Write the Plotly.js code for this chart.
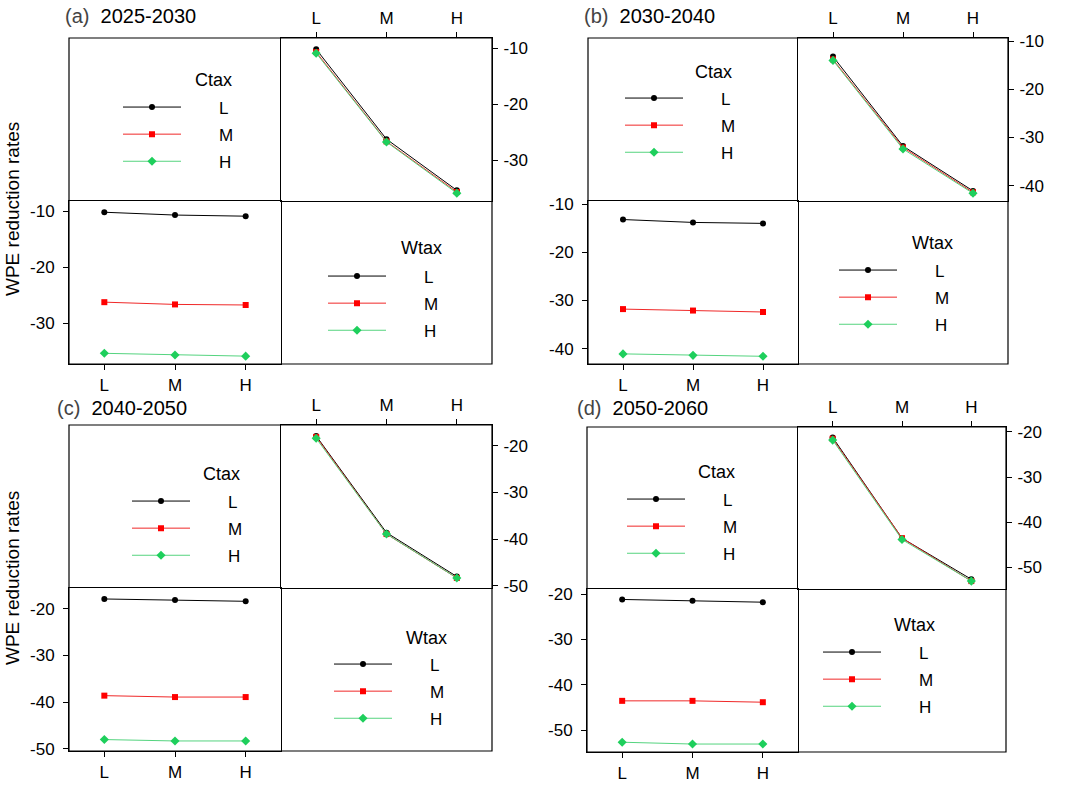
<!DOCTYPE html>
<html><head><meta charset="utf-8">
<script src="https://cdn.plot.ly/plotly-3.0.1.min.js"></script>
<style>html,body{margin:0;padding:0;background:#fff}#chart{width:1065px;height:789px}</style>
</head><body><div id="chart"></div>
<script>
// category levels (x axis) and panel labels
const levels = ['L', 'M', 'H'];
const panelTags = ['(a)', '(b)', '(c)', '(d)'];
const panelPeriods = ['2025-2030', '2030-2040', '2040-2050', '2050-2060'];
const yTitle = 'WPE reduction rates';
const legendTitles = ['Ctax', 'Wtax'];

// WPE reduction rates: one array per Ctax level, values over Wtax = L, M, H
const a_ctaxL = [-10.2, -10.7, -10.9];
const a_ctaxM = [-26.2, -26.6, -26.7];
const a_ctaxH = [-35.3, -35.6, -35.8];

const b_ctaxL = [-13.2, -13.8, -14.0];
const b_ctaxM = [-31.8, -32.1, -32.4];
const b_ctaxH = [-41.1, -41.4, -41.6];

const c_ctaxL = [-17.9, -18.1, -18.4];
const c_ctaxM = [-38.6, -38.9, -38.9];
const c_ctaxH = [-48.0, -48.3, -48.3];

const d_ctaxL = [-21.2, -21.5, -21.8];
const d_ctaxM = [-43.5, -43.5, -43.8];
const d_ctaxH = [-52.6, -53.0, -53.0];

// y tick values per panel
const a_ticks = [-10, -20, -30];
const b_ticks = [-10, -20, -30, -40];
const c_ticks = [-20, -30, -40, -50];
const d_ticks = [-20, -30, -40, -50];

const panelData = [
  [a_ctaxL, a_ctaxM, a_ctaxH],
  [b_ctaxL, b_ctaxM, b_ctaxH],
  [c_ctaxL, c_ctaxM, c_ctaxH],
  [d_ctaxL, d_ctaxM, d_ctaxH]
];
const panelTicks = [a_ticks, b_ticks, c_ticks, d_ticks];
const yRanges = [[-37.2, -8.2], [-43.2, -9.35], [-50.45, -15.55], [-54.75, -18.9]];

// ---------- layout geometry (pixels) ----------
const W = 1065, H = 789;
const fx = p => p / W, fy = p => 1 - p / H;
const geom = [
  {x0: 69,  xm: 281, x1: 492,  y0: 38,  ym: 201, y1: 364},
  {x0: 588, xm: 798, x1: 1008, y0: 38,  ym: 201, y1: 364},
  {x0: 69,  xm: 281, x1: 492,  y0: 425, ym: 588, y1: 751},
  {x0: 587, xm: 798, x1: 1006, y0: 427, ym: 589, y1: 752}
];
// legend: [line start x, first row centre y]; title: [centre x, centre y]
const legPos = [
  {c: [123, 107], w: [328, 276], ct: [213, 80], wt: [421, 248]},
  {c: [625, 98],  w: [839, 270], ct: [713, 72], wt: [932, 243]},
  {c: [132, 501], w: [334, 664], ct: [221, 474], wt: [426, 638]},
  {c: [627, 499], w: [823, 652], ct: [716, 472], wt: [914, 625]}
];
const titlePos = [[63, 16], [582, 16], [55, 408], [575, 408]];

const markerColors = ['#000000', '#ff0000', '#1ecf5c'];
const lineColors = ['#000000', '#f02828', '#55d47f'];
const symbols = ['circle', 'square', 'diamond'];
const msizes = [6, 6, 7];
const PAD = '\u00a0\u00a0\u00a0\u00a0\u00a0\u00a0\u00a0';

const FONT = 'Liberation Sans, Arial, sans-serif';
const layout = {
  width: W, height: H,
  margin: {l: 0, r: 0, t: 0, b: 0},
  paper_bgcolor: '#ffffff', plot_bgcolor: 'rgba(0,0,0,0)',
  font: {family: FONT, size: 16, color: '#000'},
  showlegend: true,
  shapes: [], annotations: []
};
const traces = [];
const axCommon = {
  showline: true, mirror: true, linecolor: '#000', linewidth: 1,
  ticks: 'outside', ticklen: 5, tickcolor: '#000', tickwidth: 1,
  showgrid: false, zeroline: false, fixedrange: true
};
const xFont = {family: FONT, size: 17, color: '#000'};
const yFont = {family: FONT, size: 17, color: '#000'};
const sid = n => (n === 1 ? '' : String(n));

panelData.forEach((rows, i) => {
  const g = geom[i];
  const nBL = 2 * i + 1, nTR = 2 * i + 2;
  const yr = yRanges[i];
  const tv = panelTicks[i];
  const tt = tv.map(v => String(v));
  // bottom-left cell: x = Wtax, lines = Ctax
  layout['xaxis' + sid(nBL)] = Object.assign({}, axCommon, {
    type: 'category', categoryorder: 'array', categoryarray: levels,
    range: [-0.5, 2.5], domain: [fx(g.x0), fx(g.xm)], anchor: 'y' + sid(nBL), side: 'bottom',
    tickfont: xFont, ticklabelstandoff: 1
  });
  layout['yaxis' + sid(nBL)] = Object.assign({}, axCommon, {
    range: yr, tickmode: 'array', tickvals: tv, ticktext: tt,
    domain: [fy(g.y1), fy(g.ym)], anchor: 'x' + sid(nBL), side: 'left',
    tickfont: yFont, ticklabelstandoff: 5
  });
  // top-right cell: x = Ctax, lines = Wtax
  layout['xaxis' + sid(nTR)] = Object.assign({}, axCommon, {
    type: 'category', categoryorder: 'array', categoryarray: levels,
    range: [-0.5, 2.5], domain: [fx(g.xm), fx(g.x1)], anchor: 'y' + sid(nTR), side: 'top',
    tickfont: xFont, ticklabelstandoff: 1
  });
  layout['yaxis' + sid(nTR)] = Object.assign({}, axCommon, {
    range: yr, tickmode: 'array', tickvals: tv, ticktext: tt,
    domain: [fy(g.ym), fy(g.y0)], anchor: 'x' + sid(nTR), side: 'right',
    tickfont: yFont, ticklabelstandoff: 2
  });
  // outer frame
  layout.shapes.push({type: 'rect', xref: 'paper', yref: 'paper',
    x0: fx(g.x0), x1: fx(g.x1), y0: fy(g.y1), y1: fy(g.y0), line: {color: '#000', width: 1.2}});

  const legC = 'legend' + sid(2 * i + 1), legW = 'legend' + sid(2 * i + 2);
  const lp = legPos[i];
  const legBase = {
    xanchor: 'left', yanchor: 'top', bgcolor: 'rgba(0,0,0,0)', borderwidth: 0,
    font: {family: FONT, size: 17, color: '#000'}, itemwidth: 58,
    traceorder: 'grouped', tracegroupgap: 2, itemclick: false, itemdoubleclick: false
  };
  layout[legC] = Object.assign({}, legBase, {x: fx(lp.c[0] - 5), y: fy(lp.c[1] - 17.5)});
  layout[legW] = Object.assign({}, legBase, {x: fx(lp.w[0] - 5), y: fy(lp.w[1] - 17.5)});
  // legend titles
  [[lp.ct, legendTitles[0]], [lp.wt, legendTitles[1]]].forEach(([p, t]) => {
    layout.annotations.push({
      xref: 'paper', yref: 'paper', x: fx(p[0]), y: fy(p[1]),
      xanchor: 'center', yanchor: 'middle', showarrow: false,
      text: t, font: {family: FONT, size: 18, color: '#000'}
    });
  });

  // bottom-left traces (Ctax levels over Wtax)
  rows.forEach((vals, k) => {
    traces.push({
      type: 'scatter', mode: 'lines+markers', x: levels, y: vals,
      xaxis: 'x' + sid(nBL), yaxis: 'y' + sid(nBL), name: PAD + levels[k],
      legend: legC, legendgroup: 'c' + i + k,
      line: {color: lineColors[k], width: 1},
      marker: {color: markerColors[k], symbol: symbols[k], size: msizes[k]},
      hoverinfo: 'skip'
    });
  });
  // top-right traces (Wtax levels over Ctax) built from the same table
  levels.forEach((lev, w) => {
    traces.push({
      type: 'scatter', mode: 'lines+markers', x: levels, y: rows.map(r => r[w]),
      xaxis: 'x' + sid(nTR), yaxis: 'y' + sid(nTR), name: PAD + lev,
      legend: legW, legendgroup: 'w' + i + w,
      line: {color: lineColors[w], width: 1},
      marker: {color: markerColors[w], symbol: symbols[w], size: msizes[w]},
      hoverinfo: 'skip'
    });
  });

  // panel title
  layout.annotations.push({
    xref: 'paper', yref: 'paper', x: fx(titlePos[i][0]), y: fy(titlePos[i][1]),
    xanchor: 'left', yanchor: 'middle', showarrow: false,
    text: '<span style="color:#444">' + panelTags[i] + '</span>  ' + panelPeriods[i],
    font: {family: FONT, size: 20, color: '#000'}
  });
});

// y-axis titles for left column
[[12, 209], [12, 578]].forEach(p => {
  layout.annotations.push({
    xref: 'paper', yref: 'paper', x: fx(p[0]), y: fy(p[1]),
    xanchor: 'center', yanchor: 'middle', showarrow: false, textangle: -90,
    text: yTitle, font: {family: FONT, size: 19, color: '#000'}
  });
});

Plotly.newPlot('chart', traces, layout, {displayModeBar: false, staticPlot: true});
</script>
</body></html>
